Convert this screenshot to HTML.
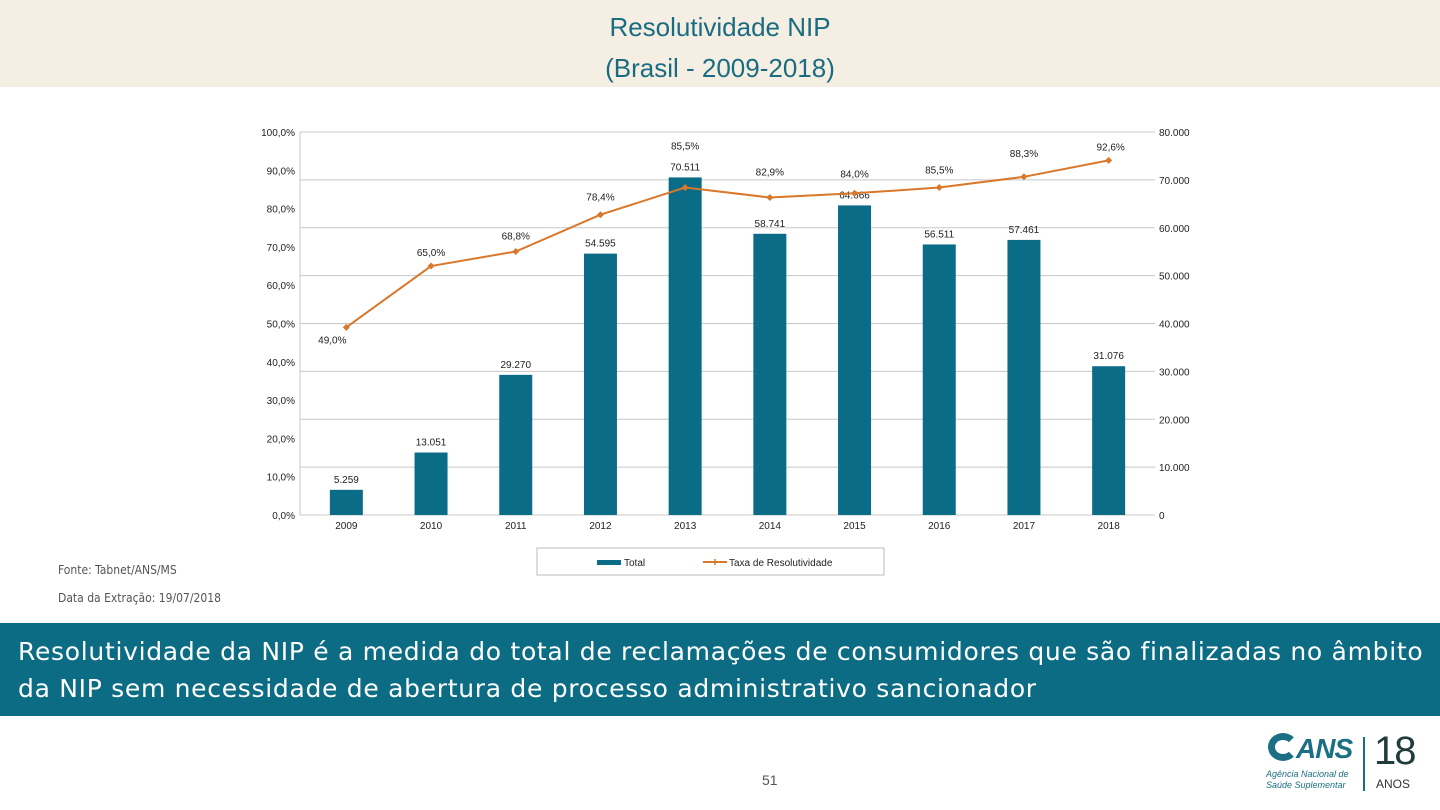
<!DOCTYPE html>
<html><head><meta charset="utf-8"><style>
body{margin:0;width:1440px;height:810px;background:#fff;position:relative;overflow:hidden;font-family:"Liberation Sans",sans-serif}
#hdr{position:absolute;left:0;top:0;width:1440px;height:87px;background:#f5eee2}
#title{position:absolute;left:0;top:7px;width:1440px;text-align:center;color:#1a6c82;font-size:26px;line-height:41px}
svg{position:absolute;left:0;top:0}
.src{position:absolute;left:58px;font-size:12px;color:#555;font-family:"DejaVu Sans Condensed","Liberation Sans Narrow",sans-serif}
#banner{position:absolute;left:0;top:623px;width:1440px;height:93px;background:#0b6c84;color:#fff;font-family:"DejaVu Sans","Liberation Sans",sans-serif;font-size:25px;line-height:37px;letter-spacing:0.7px;padding:10px 18px;box-sizing:border-box;white-space:nowrap}
#pg{position:absolute;left:762px;top:772px;font-size:14px;color:#555}
</style></head><body>
<div id="hdr"></div>
<div id="title">Resolutividade NIP<br>(Brasil - 2009-2018)</div>
<svg id="chart" width="1440" height="810"></svg>
<div class="src" style="top:563px">Fonte: Tabnet/ANS/MS</div>
<div class="src" style="top:591px">Data da Extração: 19/07/2018</div>
<div id="banner">Resolutividade da NIP é a medida do total de reclamações de consumidores que são finalizadas no âmbito<br>da NIP sem necessidade de abertura de processo administrativo sancionador</div>
<div id="pg">51</div>
<div style="position:absolute;left:1266px;top:733px;width:170px;height:60px">
<div style="position:absolute;left:2px;top:0;width:30px;height:28px;border-radius:50%;border:7px solid #1b6f85;border-right-color:transparent;box-sizing:border-box"></div>
<div style="position:absolute;left:30px;top:0;font:italic bold 28px 'Liberation Sans',sans-serif;color:#1b6f85;letter-spacing:-1px">ANS</div>
<div style="position:absolute;left:0;top:36px;font:italic 9px 'Liberation Sans',sans-serif;color:#1b6f85;line-height:11px">Agência Nacional de<br>Saúde Suplementar</div>
<div style="position:absolute;left:97px;top:4px;width:2px;height:54px;background:#1b6f85"></div>
<div style="position:absolute;left:108px;top:-4px;font:40px 'Liberation Sans',sans-serif;color:#1f3b3a;letter-spacing:-2px">18</div>
<div style="position:absolute;left:110px;top:44px;font:12px 'Liberation Sans',sans-serif;color:#333">ANOS</div>
</div>
<script>
const years=["2009","2010","2011","2012","2013","2014","2015","2016","2017","2018"];
const totals=[5259,13051,29270,54595,70511,58741,64666,56511,57461,31076];
const totalLabels=["5.259","13.051","29.270","54.595","70.511","58.741","64.666","56.511","57.461","31.076"];
const rates=[49.0,65.0,68.8,78.4,85.5,82.9,84.0,85.5,88.3,92.6];
const rateLabels=["49,0%","65,0%","68,8%","78,4%","85,5%","82,9%","84,0%","85,5%","88,3%","92,6%"];
const leftTicks=[0,10,20,30,40,50,60,70,80,90,100];
const rightTicks=[0,10000,20000,30000,40000,50000,60000,70000,80000];
const svg=document.getElementById('chart');
const NS='http://www.w3.org/2000/svg';
const X0=304,X1=1151,Y0=515,Y1=132;
const band=(X1-X0)/years.length;
const xc=i=>X0+band*(i+0.5);
const yR=v=>Y0-(v/80000)*(Y0-Y1);
const yL=v=>Y0-(v/100)*(Y0-Y1);
function mk(t,a){const e=document.createElementNS(NS,t);for(const k in a)e.setAttribute(k,a[k]);svg.appendChild(e);return e;}
function tx(x,y,s,anchor,size,fill){const e=mk('text',{x:x,y:y,'text-anchor':anchor,'font-size':size||10,fill:fill||'#222','font-family':'Liberation Sans, sans-serif'});e.textContent=s;return e;}
rightTicks.forEach(v=>{
 const g=mk('line',{x1:X0-4,x2:X1+4,y1:yR(v),y2:yR(v),stroke:'#c8c8c8','stroke-width':1});
 
 
 const t=tx(X1+8,yR(v)+4,v===0?'0':(v/1000)+'.000','start',10);
 
 
});
mk('line',{x1:X0-4,x2:X0-4,y1:Y1,y2:Y0,stroke:'#c8c8c8'});
leftTicks.forEach(v=>{
 const t=tx(295,yL(v)+4,v.toFixed(1).replace('.',',')+'%','end',10);
 
 
});
years.forEach((y,i)=>{
 const t=tx(xc(i),529,y,'middle',10);
 
 
 const b=mk('rect',{x:xc(i)-16.5,y:yR(totals[i]),width:33,height:Y0-yR(totals[i]),fill:'#0b6c88'});
 
 
 const l=tx(xc(i),yR(totals[i])-7,totalLabels[i],'middle',10);
 
 
});
const pts=rates.map((r,i)=>xc(i)+','+yL(r)).join(' ');
const pl=mk('polyline',{points:pts,fill:'none',stroke:'#d9782a','stroke-width':2});


const loff=[16,-10,-12,-14,-38,-22,-16,-14,-20,-10];
rates.forEach((r,i)=>{
 const d=mk('path',{d:`M${xc(i)-3.5},${yL(r)} L${xc(i)},${yL(r)-3.5} L${xc(i)+3.5},${yL(r)} L${xc(i)},${yL(r)+3.5}Z`,fill:'#d9782a'});
 
 
 const l=tx(xc(i)-(i==0?14:i==9?-2:0),yL(r)+loff[i],rateLabels[i],'middle',10);
 
 
});
const lg=mk('rect',{x:537,y:548,width:347,height:27,fill:'#fff',stroke:'#bbb'});


mk('rect',{x:597,y:560,width:24,height:5,fill:'#0b6c88'});
tx(624,566,'Total','start',10);
mk('line',{x1:703,x2:727,y1:562,y2:562,stroke:'#d9782a','stroke-width':2});
mk('line',{x1:715,x2:715,y1:559,y2:565,stroke:'#d9782a','stroke-width':1.5});
tx(729,566,'Taxa de Resolutividade','start',10);
</script>
</body></html>
